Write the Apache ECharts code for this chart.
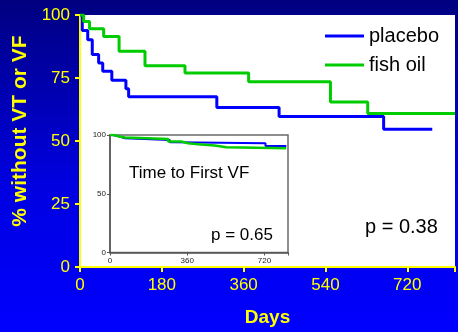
<!DOCTYPE html>
<html>
<head>
<meta charset="utf-8">
<script src="https://cdn.jsdelivr.net/npm/echarts@6/dist/echarts.min.js"></script>
<style>
html,body{margin:0;padding:0;}
#c{width:458px;height:332px;}
</style>
</head>
<body>
<div id="c"></div>
<script>
// Main chart: time to first VT or VF (days, % without event)
var placeboMain = [[0,100],[5,93.8],[17,90.2],[27,84.3],[41,81.0],[50,77.7],[70,74.1],[101,70.7],[107,67.6],[301,63.3],[438,59.7],[668,54.7],[775,54.7]];
var fishOilMain = [[0,100],[8,97.4],[21,94.5],[52,91.5],[86,85.6],[143,79.9],[231,77.0],[371,73.5],[551,65.5],[633,60.9],[825,60.9]];
// Inset: time to first VF
var placeboInset = [[0,100],[11,98.6],[46,97.2],[70,95.8],[279,93.8],[302,93.0],[725,90.7],[822,90.7]];
var fishOilInset = [[0,100],[23,98.8],[40,97.8],[70,96.6],[271,94.4],[333,93.0],[364,92.1],[410,91.0],[488,89.6],[542,88.7],[822,88.7]];
var seriesNames = ['placebo','fish oil'];
var mainXTicks = [0,180,360,540,720];
var insetXTicks = [0,360,720];
var mainP = 'p = 0.38';
var insetTitle = 'Time to First VF';
var insetP = 'p = 0.65';

var YEL = '#ffff00';
var BLUE = '#0000ff';
var GREEN = '#00cc00';
var chart = echarts.init(document.getElementById('c'), null, {renderer:'canvas'});
chart.setOption({
  animation:false,
  backgroundColor:{type:'linear',x:0,y:0,x2:0,y2:1,colorStops:[
    {offset:0,color:'#000080'},{offset:0.55,color:'#0000e0'},{offset:1,color:'#0000ff'}]},
  textStyle:{fontFamily:'Liberation Sans, Arial, sans-serif'},
  legend:{
    data:seriesNames, orient:'vertical', left:320, top:21, itemGap:9,
    itemWidth:39, itemHeight:3, icon:'rect',
    textStyle:{fontSize:20,color:'#000',fontFamily:'Liberation Sans, Arial, sans-serif'}
  },
  grid:[
    {left:80,right:0,top:15,bottom:63,show:true,backgroundColor:'#ffffff',borderWidth:0},
    {left:110,top:135,width:178,height:117.5,show:true,backgroundColor:'#ffffff',borderColor:'#6a6a6a',borderWidth:1.5}
  ],
  xAxis:[
    {type:'value',gridIndex:0,min:0,max:825,interval:180,
     name:'Days',nameLocation:'middle',nameGap:41,
     nameTextStyle:{color:YEL,fontSize:19,fontWeight:'bold'},
     axisLine:{lineStyle:{color:YEL,width:2}},
     axisTick:{length:5,lineStyle:{color:YEL,width:2}},
     axisLabel:{color:YEL,fontSize:17,margin:10,
       formatter:function(v){return mainXTicks.indexOf(v)>=0?String(v):'';}},
     splitLine:{show:false}},
    {type:'value',gridIndex:1,min:0,max:830,interval:360,
     axisLine:{lineStyle:{color:'#555',width:1.5}},
     axisTick:{length:3,lineStyle:{color:'#555'}},
     axisLabel:{color:'#222',fontSize:8,margin:4,
       formatter:function(v){return insetXTicks.indexOf(v)>=0?String(v):'';}},
     splitLine:{show:false}}
  ],
  yAxis:[
    {type:'value',gridIndex:0,min:0,max:100,interval:25,
     name:'% without VT or VF',nameLocation:'middle',nameRotate:90,nameGap:43,
     nameTextStyle:{color:YEL,fontSize:21,fontWeight:'bold',padding:[0,0,0,20]},
     axisLine:{show:true,lineStyle:{color:YEL,width:2}},
     axisTick:{show:true,length:5,lineStyle:{color:YEL,width:2}},
     axisLabel:{color:YEL,fontSize:17,margin:10},
     splitLine:{show:false}},
    {type:'value',gridIndex:1,min:0,max:100,interval:50,
     axisLine:{show:true,lineStyle:{color:'#555',width:1.5}},
     axisTick:{show:true,length:3,lineStyle:{color:'#555'}},
     axisLabel:{color:'#222',fontSize:8,margin:4},
     splitLine:{show:false}}
  ],
  series:[
    {name:seriesNames[0],type:'line',step:'end',xAxisIndex:0,yAxisIndex:0,data:placeboMain,
     symbol:'none',lineStyle:{color:BLUE,width:3},itemStyle:{color:BLUE}},
    {name:seriesNames[1],type:'line',step:'end',xAxisIndex:0,yAxisIndex:0,data:fishOilMain,
     symbol:'none',lineStyle:{color:GREEN,width:3},itemStyle:{color:GREEN}},
    {name:'placebo (VF)',type:'line',step:'end',xAxisIndex:1,yAxisIndex:1,data:placeboInset,
     symbol:'none',lineStyle:{color:BLUE,width:2},itemStyle:{color:BLUE}},
    {name:'fish oil (VF)',type:'line',step:'end',xAxisIndex:1,yAxisIndex:1,data:fishOilInset,
     symbol:'none',lineStyle:{color:GREEN,width:2.5},itemStyle:{color:GREEN}}
  ],
  graphic:[
    {type:'text',left:365,top:217,z:10,style:{text:mainP,fill:'#000',font:'20px "Liberation Sans", Arial, sans-serif'}},
    {type:'text',left:129,top:165,z:10,style:{text:insetTitle,fill:'#000',font:'17px "Liberation Sans", Arial, sans-serif'}},
    {type:'text',left:211,top:227,z:10,style:{text:insetP,fill:'#000',font:'17px "Liberation Sans", Arial, sans-serif'}}
  ]
});
</script>
</body>
</html>
